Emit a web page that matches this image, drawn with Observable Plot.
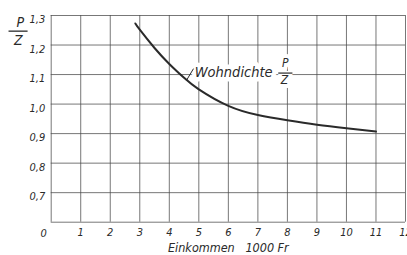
<!DOCTYPE html>
<html>
<head>
<meta charset="utf-8">
<script src="https://cdn.jsdelivr.net/npm/d3@7"></script>
<script src="https://cdn.jsdelivr.net/npm/@observablehq/plot@0.6"></script>
<style>
  html, body { margin: 0; padding: 0; background: #fff; }
  svg { display: block; }
</style>
</head>
<body>
<div id="chart"></div>
<script>
// Data
const income  = [2.85, 3.0, 3.5, 4.0, 4.5, 5.0, 6.0, 7.0, 8.0, 9.0, 10.0, 11.0];   // 1000 Fr
const density = [1.273, 1.252, 1.19, 1.136, 1.089, 1.05, 0.994, 0.963, 0.945, 0.93, 0.918, 0.907]; // P/Z
const xGrid = [0,1,2,3,4,5,6,7,8,9,10,11,12];
const xTicks = [1,2,3,4,5,6,7,8,9,10,11,12];
const yGrid = [0.6,0.7,0.8,0.9,1.0,1.1,1.2,1.3];
const yTicks = [0.7,0.8,0.9,1.0,1.1,1.2,1.3];
const xLabel = "Einkommen\u00a0\u00a0\u00a01000 Fr";
const seriesLabel = ["Wohndichte"];
const labelX = [4.86], labelY = [1.091];
const fracX = [7.93], fracTopY = [1.137], fracBotY = [1.08];
const fracBar = [{x1: 7.69, x2: 8.17, y: 1.105}];
const titleBar = [{x1: -1.445, x2: -0.80, y: 1.247}];
const leader = [{x1: 4.58, y1: 1.08, x2: 4.82, y2: 1.12}];

const rows = income.map((x, i) => ({x, y: density[i]}));
const font = "'Liberation Sans Narrow', 'DejaVu Sans Condensed', 'Liberation Sans', sans-serif";
const ink = "#2a2a2a";
const gridColor = "#4a4a4a";

const chart = Plot.plot({
  width: 407,
  height: 255,
  marginLeft: 50.7,
  marginRight: 2,
  marginTop: 15,
  marginBottom: 33.3,
  style: {fontFamily: font, background: "#fff", color: ink, overflow: "visible"},
  x: {domain: [0, 12]},
  y: {domain: [0.6, 1.3]},
  marks: [
    Plot.gridX(xGrid, {stroke: gridColor, strokeOpacity: 0.75, strokeWidth: 1}),
    Plot.gridY(yGrid, {stroke: gridColor, strokeOpacity: 0.75, strokeWidth: 1}),
    Plot.axisX(xTicks, {tickSize: 0, tickPadding: 6, fontSize: 11, fontStyle: "italic", fill: ink, label: null}),
    Plot.axisY(yTicks, {tickSize: 0, tickPadding: 6, dy: 4, fontSize: 11, fontStyle: "italic", fill: ink, label: null,
      tickFormat: d => d.toFixed(1).replace(".", ",")}),
    Plot.text(["0"], {frameAnchor: "bottom-left", textAnchor: "middle", lineAnchor: "middle", dx: -7.5, dy: 11, fontSize: 11, fontStyle: "italic", fill: ink}),
    Plot.text([xLabel], {frameAnchor: "bottom", lineAnchor: "middle", dy: 26, fontSize: 12.5, fontStyle: "italic", fill: ink}),
    // y-axis title P / Z
    Plot.text(["P"], {frameAnchor: "top-left", textAnchor: "middle", lineAnchor: "middle", dx: -31, dy: 7.5, fontSize: 14, fontStyle: "italic", fill: ink}),
    Plot.link(titleBar, {x1: "x1", x2: "x2", y1: "y", y2: "y", stroke: ink, strokeWidth: 1.3}),
    Plot.text(["Z"], {frameAnchor: "top-left", textAnchor: "middle", lineAnchor: "middle", dx: -33, dy: 25, fontSize: 14, fontStyle: "italic", fill: ink}),
    // series label with white halo
    Plot.text(seriesLabel, {x: labelX, y: labelY, textAnchor: "start", lineAnchor: "bottom", fontSize: 14.5,
      fontStyle: "italic", fill: ink, stroke: "#fff", strokeWidth: 9}),
    Plot.text(["P"], {x: fracX, y: fracTopY, fontSize: 12, fontStyle: "italic", fill: ink, stroke: "#fff", strokeWidth: 8}),
    Plot.text(["Z"], {x: fracX, y: fracBotY, dx: -1, fontSize: 12, fontStyle: "italic", fill: ink, stroke: "#fff", strokeWidth: 8}),
    Plot.link(fracBar, {x1: "x1", x2: "x2", y1: "y", y2: "y", stroke: ink, strokeWidth: 1.2}),
    Plot.line(rows, {x: "x", y: "y", curve: "natural", stroke: ink, strokeWidth: 2}),
    Plot.link(leader, {x1: "x1", y1: "y1", x2: "x2", y2: "y2", stroke: ink, strokeWidth: 1})
  ]
});
document.getElementById("chart").appendChild(chart);
</script>
</body>
</html>
